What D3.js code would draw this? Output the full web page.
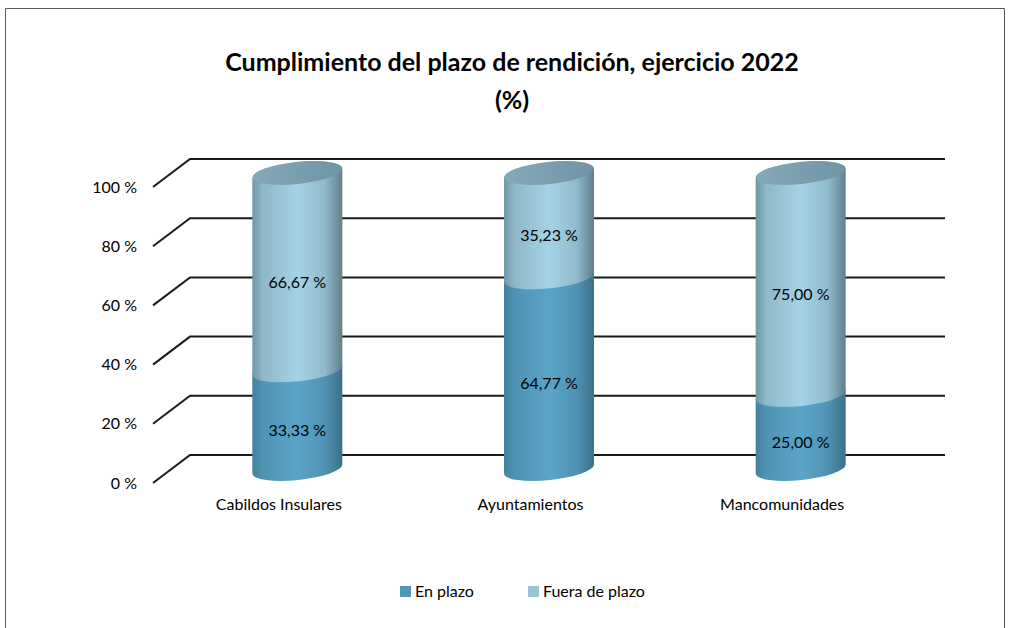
<!DOCTYPE html>
<html>
<head>
<meta charset="utf-8">
<script src="https://cdn.jsdelivr.net/npm/d3@7"></script>
<style>
html, body { margin: 0; padding: 0; background: #fff; }
svg { display: block; font-family: Lato, "Open Sans", sans-serif; fill: #000; }
</style>
</head>
<body>
<script>
const categories = ["Cabildos Insulares", "Ayuntamientos", "Mancomunidades"];
const enPlazo = [33.33, 64.77, 25.00];
const fueraPlazo = [66.67, 35.23, 75.00];
const seriesNames = ["En plazo", "Fuera de plazo"];
const yTicks = [0, 20, 40, 60, 80, 100];
const titleLines = ["Cumplimiento del plazo de rendición, ejercicio 2022", "(%)"];

const width = 1011, height = 628;
const depthX = 37, depthY = 28;   // 3d depth of the chart floor
const rx = 45, ry = 11, tilt = -6;  // ellipse of the cylinders

const svg = d3.select("body").append("svg")
  .attr("width", width)
  .attr("height", height);

const fmt = v => v.toFixed(2).replace(".", ",") + " %";

const xScale = d3.scaleBand().domain(categories).range([153, 908]);
const yScale = d3.scaleLinear().domain([0, 100]).range([483, 187]);

// gradients of the cylinder sides
const defs = svg.append("defs");
function gradient(id, stops) {
  const g = defs.append("linearGradient").attr("id", id);
  stops.forEach(s => g.append("stop").attr("offset", s[0]).attr("stop-color", s[1]));
}
gradient("gradDark", [[0, "#44809e"], [0.12, "#4f93b3"], [0.5, "#5aa5c7"], [0.8, "#4f93b3"], [1, "#3d7189"]]);
gradient("gradLight", [[0, "#6f97a8"], [0.12, "#8fb8c8"], [0.5, "#a3d3e5"], [0.8, "#90bccd"], [1, "#607f8c"]]);
gradient("gradTop", [[0, "#86a9b8"], [1, "#6f94a5"]]);

const shadow = defs.append("filter").attr("id", "soft");
shadow.append("feGaussianBlur").attr("stdDeviation", 0.5);

// frame
svg.append("path")
  .attr("d", "M5.5 628V8.5H1004.5V628")
  .attr("fill", "none")
  .attr("stroke", "#595959");

// title
svg.append("g").selectAll("text")
  .data(titleLines)
  .join("text")
  .attr("x", 512)
  .attr("y", (d, i) => 71 + i * 38)
  .attr("text-anchor", "middle")
  .attr("font-size", 25)
  .attr("font-weight", "bold")
  .text(d => d);

// grid lines, back wall and the slanted part
const grid = svg.append("g");
grid.selectAll("path")
  .data(yTicks)
  .join("path")
  .attr("d", d => `M${xScale.range()[0]} ${yScale(d)}L${xScale.range()[0] + depthX} ${yScale(d) - depthY}H${xScale.range()[1] + depthX}`)
  .attr("fill", "none")
  .attr("stroke", "#1a1a1a")
  .attr("stroke-width", 2);

// y axis
const yAxis = svg.append("g")
  .attr("transform", `translate(${xScale.range()[0]},0)`)
  .call(d3.axisLeft(yScale).tickValues(yTicks).tickSize(0).tickPadding(16).tickFormat(d => d + " %"));
yAxis.select(".domain").remove();
yAxis.selectAll("text").attr("font-size", 16).attr("font-family", "Lato").attr("fill", "#000");

// x axis
const xAxis = svg.append("g")
  .attr("transform", `translate(0,${yScale(0)})`)
  .call(d3.axisBottom(xScale).tickSize(0).tickPadding(16));
xAxis.select(".domain").remove();
xAxis.selectAll("text").attr("font-size", 16).attr("font-family", "Lato").attr("fill", "#000");

// cylinders
const rows = categories.map((c, i) => ({ cat: c, enPlazo: enPlazo[i], fuera: fueraPlazo[i] }));
const stacked = d3.stack().keys(["enPlazo", "fuera"])(rows);
const fills = ["url(#gradDark)", "url(#gradLight)"];

const cx = d => xScale(d) + xScale.bandwidth() / 2 + depthX / 2;
const cy = v => yScale(v) - depthY / 2;
const dy = rx * Math.sin(-tilt * Math.PI / 180);

function sidePath(cat, v0, v1) {
  const x = cx(cat);
  const arc = `A${rx} ${ry} ${tilt} 0 0 `;
  return `M${x - rx} ${cy(v1) + dy}` +
    `L${x - rx} ${cy(v0) + dy}` +
    arc + `${x + rx} ${cy(v0) - dy}` +
    `L${x + rx} ${cy(v1) - dy}` +
    arc + `${x - rx} ${cy(v1) + dy}Z`;
}

stacked.forEach((layer, k) => {
  svg.append("g").selectAll("path")
    .data(layer)
    .join("path")
    .attr("d", d => sidePath(d.data.cat, d[0], d[1]))
    .attr("fill", fills[k]);
});

// top of the cylinders
svg.append("g").selectAll("ellipse")
  .data(categories)
  .join("ellipse")
  .attr("cx", 0)
  .attr("cy", 0)
  .attr("rx", rx)
  .attr("ry", ry)
  .attr("transform", d => `translate(${cx(d)},${cy(100)}) rotate(${tilt})`)
  .attr("fill", "url(#gradTop)");

// value labels
stacked.forEach(layer => {
  svg.append("g").selectAll("text")
    .data(layer)
    .join("text")
    .attr("x", d => cx(d.data.cat))
    .attr("y", d => yScale((d[0] + d[1]) / 2) - 3.5)
    .attr("dy", "0.35em")
    .attr("text-anchor", "middle")
    .attr("font-size", 16)
    .text(d => fmt(d[1] - d[0]));
});

// legend
const legendX = [400, 528];
const legendColors = ["#4f96b8", "#98c5d6"];
const legend = svg.append("g").selectAll("g")
  .data(seriesNames)
  .join("g")
  .attr("transform", (d, i) => `translate(${legendX[i]},586)`);
legend.append("rect")
  .attr("width", 11)
  .attr("height", 11)
  .attr("fill", (d, i) => legendColors[i]);
legend.append("text")
  .attr("x", 15)
  .attr("y", 11)
  .attr("font-size", 16)
  .text(d => d);
</script>
</body>
</html>
